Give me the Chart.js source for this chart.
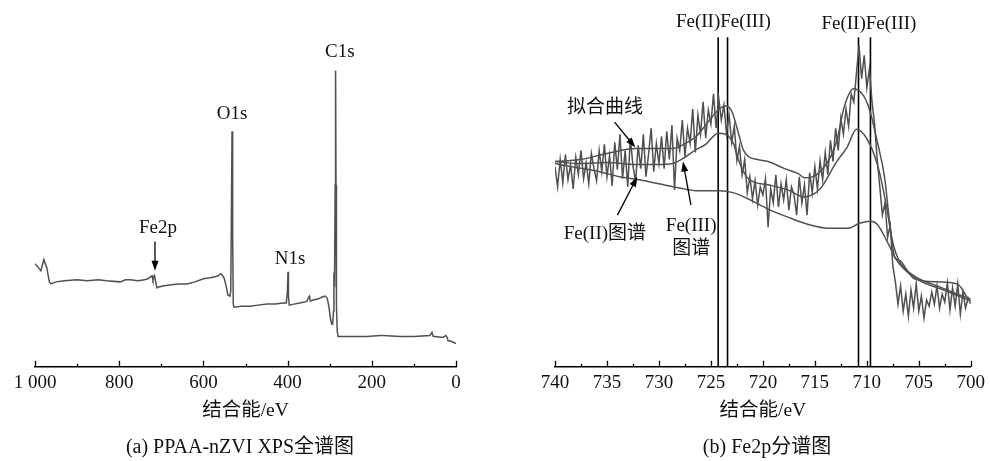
<!DOCTYPE html>
<html>
<head>
<meta charset="utf-8">
<script src="https://cdn.jsdelivr.net/npm/chart.js@4.4.1/dist/chart.umd.min.js"></script>
<style>
  html, body { margin: 0; padding: 0; background: #fff; }
  #wrap { position: relative; width: 990px; height: 461px; overflow: hidden; }
  .panel { position: absolute; top: 0; width: 495px; height: 461px; }
  .cap { position: absolute; top: 435px; line-height: 22px; font-size: 20px; color: #111;
         font-family: "Liberation Serif", "Noto Sans CJK SC", serif; white-space: nowrap; transform: translateX(-50%); }
</style>
</head>
<body>
<div id="wrap">
  <div class="panel" style="left:0"><canvas id="survey"></canvas></div>
  <div class="panel" style="left:495px"><canvas id="fe2p"></canvas></div>
  <div class="cap" style="left:240px">(a) PPAA-nZVI XPS全谱图</div>
  <div class="cap" style="left:767px">(b) Fe2p分谱图</div>
</div>
<script>
// ---- (a) 全谱 ----
const surveyEnergy = [1000, 986, 979, 972, 966, 962, 950, 930, 900, 876, 850, 830, 798, 785, 774, 755, 740, 732, 726, 722,
  720, 716, 714, 710, 706, 696, 680, 660, 639, 620, 600, 584, 572, 565, 559, 556, 551, 546, 542, 537,
  535, 533.5, 532, 530.5, 529, 527, 510, 489, 470, 449, 430, 411, 403, 400.5, 399, 398, 396, 385, 371, 360,
  354, 350, 348, 346, 340, 328, 318, 311, 306, 302, 298, 295, 293, 291, 290, 288.5, 287, 286, 285, 284,
  282, 280, 250, 211, 180, 173, 133, 100, 62, 57, 54, 50, 31, 24, 21, 19, 10, 0];
const surveyCounts = [102, 95, 106, 98, 84, 82, 84, 85, 86, 85, 86, 85, 84, 86, 86, 85, 86, 87, 89, 90,
  86, 90, 85, 78, 79, 80, 81, 82, 82, 84, 87, 88, 89, 90, 92, 91, 88, 80, 71, 70,
  75, 150, 233, 130, 62, 59, 60, 60, 61, 62, 62, 63, 63, 75, 94, 70, 61, 62, 63, 64,
  65, 69, 70, 65, 66, 67, 69, 70, 68, 60, 47, 42, 42, 55, 88, 85, 180, 293, 180, 60,
  35, 30, 30, 30, 31, 31, 30, 30, 31, 34, 30, 30, 29, 31, 29, 26, 25, 23];

const surveyLabels = [
  { text: 'C1s', x: 276, y: 311 },
  { text: 'O1s', x: 532, y: 250 },
  { text: 'N1s', x: 394, y: 107 },
  { text: 'Fe2p', x: 708, y: 137 }
];
const surveyArrows = [{ x1: 715, y1: 124, x2: 715, y2: 95 }];

// ---- (b) Fe2p 分谱 ----
// 实测谱: 740 eV -> 700 eV, 每 0.25 eV 一点
const fe2pRaw = [
  198, 178, 205, 182, 210, 185, 200, 176, 207, 190, 214, 186, 202, 181, 211, 196, 184, 214, 193, 220,
  188, 209, 179, 222, 195, 230, 186, 214, 178, 226, 199, 183, 219, 196, 230, 188, 210, 236, 193, 221,
  201, 228, 196, 233, 205, 239, 175, 226, 214, 244, 208, 236, 221, 255, 212, 249, 230, 262, 226, 254,
  240, 270, 236, 266, 244, 259, 231, 249, 222, 238, 204, 218, 190, 205, 172, 188, 166, 184, 160, 178,
  170, 186, 138, 176, 162, 190, 158, 181, 165, 185, 155, 178, 170, 150, 188, 162, 180, 150, 192, 172,
  198, 176, 204, 185, 212, 190, 224, 203, 236, 214, 246, 230, 255, 238, 270, 262, 290, 318, 285, 308,
  276, 295, 262, 240, 205, 178, 150, 162, 128, 140, 100, 84, 62, 80, 55, 72, 50, 76, 58, 82,
  55, 70, 48, 66, 60, 74, 62, 80, 58, 72, 64, 83, 56, 78, 60, 82, 52, 74, 58, 68, 62];

const fitEnergy = [740, 737.6, 735, 732.2, 728.7, 727.1, 726.4, 725.2, 724.2, 723.6, 723, 722.4, 721.9, 721.4, 720.5, 719.5, 717.9,
  716.6, 716, 714.5, 712.9, 712.2, 711.3, 710.3, 709.7, 709, 708.3, 707.7, 707.3, 706.8, 706.1, 705.4, 703.2, 701.3, 700.2];
const fitCounts = [203, 205, 211, 216, 216, 223, 228, 243, 255, 258, 253, 233, 215, 208, 205, 203, 196,
  191, 187, 193, 223, 256, 275, 268, 253, 223, 188, 133, 108, 105, 95, 87, 84, 82, 66];

const fe3Energy = [740, 737.6, 735, 732.2, 730, 728.7, 727.4, 726.4, 725.5, 724.3, 723.6, 722.8, 722.4, 721.4, 719.5, 717.6,
  716, 714.5, 712.9, 711.9, 711, 709.7, 708.8, 708.1, 707.5, 706.9, 705.6, 703, 700];
const fe3Counts = [203, 201, 202, 200, 200, 201, 208, 215, 220, 231, 230, 220, 206, 186, 180, 175,
  168, 176, 203, 217, 235, 220, 193, 158, 123, 105, 91, 79, 67];

const fe2Energy = [740, 737.9, 735.7, 733.8, 731.9, 730, 728.1, 726.2, 724.2, 722.8, 721.4, 719.5, 717.6, 715.7, 713.7,
  711.8, 710.7, 709.6, 709, 708, 707.1, 705.8, 704.5, 702.6, 700];
const fe2Counts = [201, 197, 193, 188, 185, 181, 177, 174, 174, 172, 166, 156, 148, 141, 137,
  137, 142, 144, 141, 123, 105, 91, 83, 76, 65];

const peakLines = [724.3, 723.4, 710.8, 709.65];
const peakLineTop = 326;

const fe2pLabels = [
  { text: 'Fe(II)Fe(III)', x: 723.8, y: 341 },
  { text: 'Fe(II)Fe(III)', x: 709.8, y: 339 },
  { text: '拟合曲线', x: 735.2, y: 256 },
  { text: 'Fe(II)图谱', x: 735.2, y: 131 },
  { text: 'Fe(III)', x: 726.9, y: 139 },
  { text: '图谱', x: 726.9, y: 116 }
];
const fe2pArrows = [
  { x1: 734.27, y1: 242, x2: 732.27, y2: 217 },
  { x1: 733.99, y1: 150, x2: 732.08, y2: 188 },
  { x1: 726.92, y1: 160, x2: 727.69, y2: 203 }
];

const FONT = '"Liberation Serif", "Noto Sans CJK SC", serif';
Chart.defaults.font.family = FONT;
Chart.defaults.color = '#111';

function pairs(xs, ys) {
  return xs.map((x, i) => ({ x: x, y: ys[i] }));
}

// 刻度向上画, 主刻度长, 次刻度短
const tickMarks = {
  id: 'tickMarks',
  afterDraw(chart, args, opts) {
    const sx = chart.scales.x;
    const ctx = chart.ctx;
    const y0 = chart.chartArea.bottom;
    ctx.save();
    ctx.strokeStyle = '#000';
    ctx.lineWidth = 1.3;
    const n = Math.round((sx.max - sx.min) / opts.minor);
    for (let i = 0; i <= n; i++) {
      const v = sx.min + i * opts.minor;
      const major = i % 2 === 0;
      const px = Math.round(sx.getPixelForValue(v)) + 0.5;
      ctx.beginPath();
      ctx.moveTo(px, y0);
      ctx.lineTo(px, y0 - (major ? 6 : 3));
      ctx.stroke();
    }
    ctx.restore();
  }
};

// 文字标注和箭头
const notes = {
  id: 'notes',
  afterDatasetsDraw(chart, args, opts) {
    const sx = chart.scales.x, sy = chart.scales.y;
    const ctx = chart.ctx;
    ctx.save();
    ctx.fillStyle = '#111';
    ctx.font = '19px ' + FONT;
    ctx.textAlign = 'center';
    ctx.textBaseline = 'middle';
    (opts.labels || []).forEach(l => {
      ctx.fillText(l.text, sx.getPixelForValue(l.x), sy.getPixelForValue(l.y));
    });
    ctx.strokeStyle = '#000';
    ctx.lineWidth = 1.3;
    (opts.arrows || []).forEach(a => {
      const x1 = sx.getPixelForValue(a.x1), y1 = sy.getPixelForValue(a.y1);
      const x2 = sx.getPixelForValue(a.x2), y2 = sy.getPixelForValue(a.y2);
      const ang = Math.atan2(y2 - y1, x2 - x1);
      const hl = 10, hw = 3.5;
      ctx.beginPath();
      ctx.moveTo(x1, y1);
      ctx.lineTo(x2 - Math.cos(ang) * hl * 0.8, y2 - Math.sin(ang) * hl * 0.8);
      ctx.stroke();
      ctx.beginPath();
      ctx.moveTo(x2, y2);
      ctx.lineTo(x2 - Math.cos(ang) * hl - Math.sin(ang) * hw, y2 - Math.sin(ang) * hl + Math.cos(ang) * hw);
      ctx.lineTo(x2 - Math.cos(ang) * hl + Math.sin(ang) * hw, y2 - Math.sin(ang) * hl - Math.cos(ang) * hw);
      ctx.closePath();
      ctx.fillStyle = '#000';
      ctx.fill();
    });
    ctx.restore();
  }
};

function xAxis(min, max, step, fmt) {
  return {
    type: 'linear', reverse: true, min: min, max: max,
    border: { display: true, color: '#000', width: 1.5 },
    grid: { display: false, drawTicks: false },
    ticks: { stepSize: step, padding: 5, autoSkip: false, maxRotation: 0, color: '#111',
             font: { size: 19 }, callback: fmt },
    title: { display: true, text: '结合能/eV', color: '#111', font: { size: 19.5 }, padding: { top: 0, bottom: 0 } }
  };
}

const lineStyle = { borderColor: '#505050', borderWidth: 1.5, pointRadius: 0, fill: false };

new Chart(document.getElementById('survey'), {
  type: 'line',
  data: {
    datasets: [Object.assign({ data: pairs(surveyEnergy, surveyCounts), tension: 0 }, lineStyle)]
  },
  options: {
    responsive: true, maintainAspectRatio: false, animation: false,
    layout: { padding: { left: 35, right: 39, top: 20, bottom: 38 } },
    scales: {
      x: xAxis(0, 1000, 200, v => v === 1000 ? '1 000' : String(v)),
      y: { display: false, min: 0, max: 343 }
    },
    plugins: {
      legend: { display: false }, tooltip: { enabled: false },
      tickMarks: { minor: 100 },
      notes: { labels: surveyLabels, arrows: surveyArrows }
    }
  },
  plugins: [tickMarks, notes]
});

const rawPts = fe2pRaw.map((v, i) => ({ x: 740 - i * 0.25, y: v }));
const peakSets = peakLines.map(e => ({
  data: [{ x: e, y: 0 }, { x: e, y: peakLineTop }],
  borderColor: '#000', borderWidth: 1.6, pointRadius: 0
}));

new Chart(document.getElementById('fe2p'), {
  type: 'line',
  data: {
    datasets: [
      Object.assign({ data: rawPts, tension: 0 }, lineStyle),
      Object.assign({ data: pairs(fitEnergy, fitCounts), cubicInterpolationMode: 'monotone' }, lineStyle),
      Object.assign({ data: pairs(fe3Energy, fe3Counts), cubicInterpolationMode: 'monotone' }, lineStyle),
      Object.assign({ data: pairs(fe2Energy, fe2Counts), cubicInterpolationMode: 'monotone' }, lineStyle)
    ].concat(peakSets)
  },
  options: {
    responsive: true, maintainAspectRatio: false, animation: false,
    layout: { padding: { left: 60, right: 16, top: 20, bottom: 38 } },
    scales: {
      x: xAxis(700, 740, 5, v => String(v)),
      y: { display: false, min: 0, max: 343 }
    },
    plugins: {
      legend: { display: false }, tooltip: { enabled: false },
      tickMarks: { minor: 2.5 },
      notes: { labels: fe2pLabels, arrows: fe2pArrows }
    }
  },
  plugins: [tickMarks, notes]
});
</script>
</body>
</html>
